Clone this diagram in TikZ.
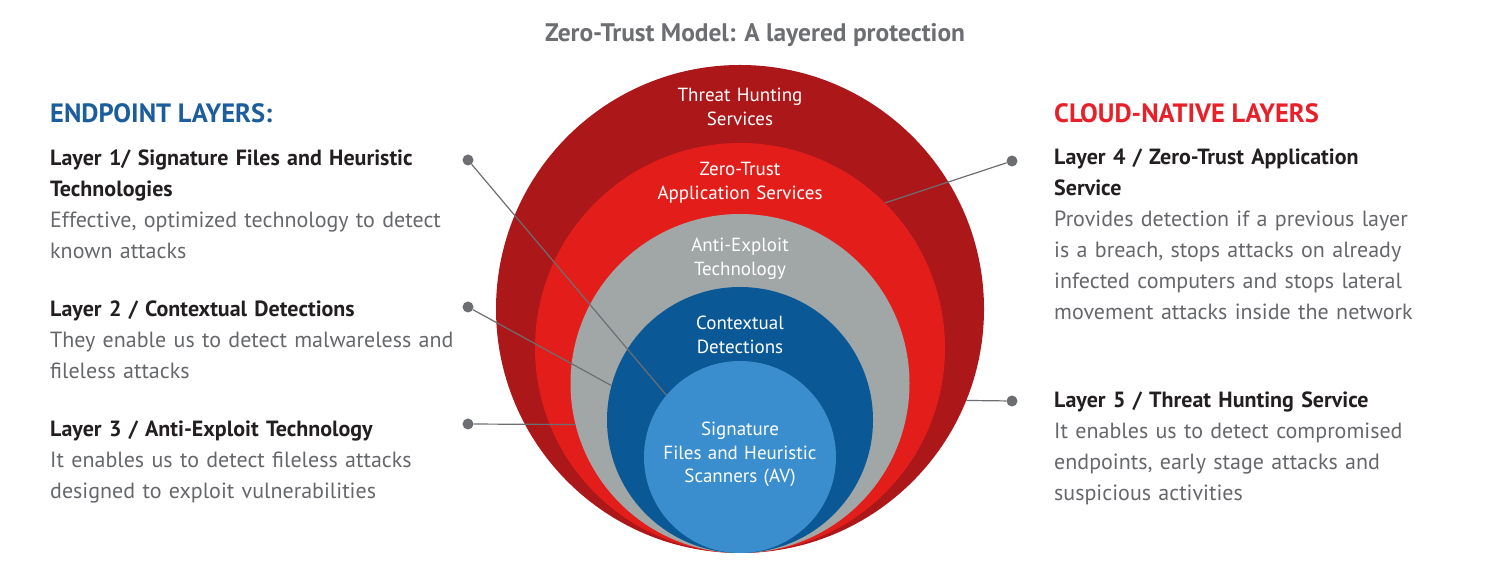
\documentclass[tikz,border=0pt]{standalone}
\usepackage{fontspec}
\setmainfont{PT Sans}
\definecolor{huntred}{HTML}{AC1719}
\definecolor{trustred}{HTML}{E31E1A}
\definecolor{exploitgray}{HTML}{A1A7A7}
\definecolor{contextblue}{HTML}{0A5895}
\definecolor{sigblue}{HTML}{3A8ECD}
\definecolor{leadgray}{HTML}{6D6E71}
\definecolor{descgray}{HTML}{66676B}
\definecolor{inkblack}{HTML}{231F20}
\definecolor{endblue}{HTML}{1C5E9D}
\definecolor{cloudred}{HTML}{E8202A}
\begin{document}
\begin{tikzpicture}[x=1pt,y=1pt,
    ring/.style={circle,inner sep=0pt,minimum size=#1},
    ringtext/.style={text=white,font=\fontsize{19}{23.5}\selectfont,
      text width=260pt,align=center,anchor=base,inner sep=0pt},
    blurb/.style={text=descgray,font=\fontsize{22}{31}\selectfont,
      text width=430pt,align=left,anchor=base west,inner sep=0pt},
    lead/.style={draw=leadgray,line width=1.2pt},
    dot/.style={circle,fill=leadgray,inner sep=0pt,minimum size=11pt}]

    \useasboundingbox (0,0) rectangle (1496,562);

    % rings, outer to inner, all touching at the bottom
    \foreach \name/\r/\col in {hunt/244/huntred,ztrust/205/trustred,
        exploit/169.5/exploitgray,context/133/contextblue,sig/96/sigblue}
        \node[ring=2*\r,fill=\col] (\name) at (740,9+\r) {};

    \node[ringtext] (huntlbl) at (740,460) {Threat Hunting\\Services};
    \node[ringtext] (ztrustlbl) at (740,386) {Zero-Trust\\Application Services};
    \node[ringtext] (exploitlbl) at (740,310) {Anti-Exploit\\Technology};
    \node[ringtext] (contextlbl) at (740,232) {Contextual\\Detections};
    \node[ringtext] (siglbl) at (740,126)
        {Signature\\Files and Heuristic\\Scanners (AV)};

    \node[font=\bfseries\fontsize{25.4}{30}\selectfont,text=leadgray,anchor=base]
        (title) at (755,520) {Zero-Trust Model: A layered protection};
    \node[font=\bfseries\fontsize{26.5}{30}\selectfont,text=endblue,
        anchor=base west,inner sep=0pt] (endhead) at (50,439) {ENDPOINT LAYERS:};
    \node[font=\bfseries\fontsize{26.5}{30}\selectfont,text=cloudred,
        anchor=base west,inner sep=0pt] (cloudhead) at (1054,439) {CLOUD-NATIVE LAYERS};

    % endpoint layers
    \node[blurb] (layer1) at (50,396)
        {{\bfseries\color{inkblack}Layer 1/ Signature Files and Heuristic\\Technologies}\\
        Effective, optimized technology to detect\\known attacks};
    \node[blurb] (layer2) at (50,245)
        {{\bfseries\color{inkblack}Layer 2 / Contextual Detections}\\
        They enable us to detect malwareless and\\fileless attacks};
    \node[blurb] (layer3) at (50,125)
        {{\bfseries\color{inkblack}Layer 3 / Anti-Exploit Technology}\\
        It enables us to detect fileless attacks\\designed to exploit vulnerabilities};

    % cloud-native layers
    \node[blurb] (layer4) at (1054,397)
        {{\bfseries\color{inkblack}Layer 4 / Zero-Trust Application\\Service}\\
        Provides detection if a previous layer\\is a breach, stops attacks on already\\
        infected computers and stops lateral\\movement attacks inside the network};
    \node[blurb] (layer5) at (1054,154)
        {{\bfseries\color{inkblack}Layer 5 / Threat Hunting Service}\\
        It enables us to detect compromised\\endpoints, early stage attacks and\\
        suspicious activities};

    % leader lines
    \node[dot] (dot1) at (468,402) {};
    \node[dot] (dot2) at (468,255) {};
    \node[dot] (dot3) at (468,138) {};
    \node[dot] (dot4) at (1012,401) {};
    \node[dot] (dot5) at (1012,161) {};
    \draw[lead] (dot1) -- (sig.140);
    \draw[lead] (dot2) -- (context.165);
    \draw[lead] (dot3) -- (exploit.194);
    \draw[lead] (dot4) -- (ztrust.45);
    \draw[lead] (dot5) -- (hunt.-22);
\end{tikzpicture}
\end{document}
